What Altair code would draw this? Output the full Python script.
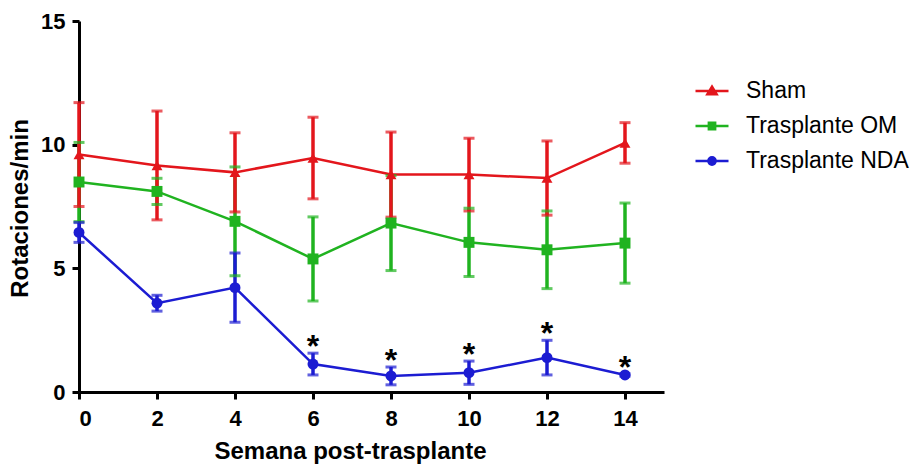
import altair as alt
import pandas as pd

# ---- data ----
semanas = [0, 2, 4, 6, 8, 10, 12, 14]

sham_media = [9.6, 9.16, 8.88, 9.46, 8.79, 8.79, 8.65, 10.07]
sham_sem = [2.1, 2.2, 1.6, 1.65, 1.72, 1.47, 1.5, 0.82]

om_media = [8.49, 8.11, 6.9, 5.38, 6.83, 6.05, 5.75, 6.02]
om_sem = [1.6, 0.53, 2.2, 1.7, 1.92, 1.38, 1.57, 1.62]

nda_media = [6.45, 3.59, 4.22, 1.13, 0.65, 0.78, 1.39, 0.69]
nda_sem = [0.4, 0.32, 1.4, 0.44, 0.36, 0.47, 0.7, 0.05]
nda_marca = ["", "", "", "*", "*", "*", "*", "*"]

orden_leyenda = ["Sham", "Trasplante OM", "Trasplante NDA"]
colores = ["#e3161c", "#20b320", "#1c1cd2"]
formas = ["triangle-up", "square", "circle"]
formas_leyenda = [
    "M-1,0H1M0,-0.26L0.28,0.2L-0.28,0.2Z",
    "M-1,0H1M-0.19,-0.19H0.19V0.19H-0.19Z",
    "M-1,0H1M-0.22,0A0.22,0.22,0,1,0,0.22,0A0.22,0.22,0,1,0,-0.22,0Z",
]

# drawing order: OM, NDA, Sham (Sham on top)
series = [
    ("Trasplante OM", om_media, om_sem, [""] * 8),
    ("Trasplante NDA", nda_media, nda_sem, nda_marca),
    ("Sham", sham_media, sham_sem, [""] * 8),
]
rows = []
for g, medias, errs, marcas in series:
    for s, m, e, mk in zip(semanas, medias, errs, marcas):
        rows.append({"semana": s, "grupo": g, "media": m,
                     "inf": m - e, "sup": m + e, "marca": mk})
df = pd.DataFrame(rows)

FONT = "Liberation Sans"

xscale = alt.Scale(domain=[0, 15], nice=False, zero=False)
yscale = alt.Scale(domain=[0, 15], nice=False)
xaxis = alt.Axis(values=semanas, format="d", title="Semana post-trasplante",
                 titleX=271, titleY=66, titleBaseline="alphabetic",
                 titleAlign="center", labelPadding=9)
yaxis = alt.Axis(values=[0, 5, 10, 15], title="Rotaciones/min",
                 titleX=-59, titleY=187, titleAlign="center",
                 titleBaseline="middle", titleAngle=270, labelPadding=7)

X = alt.X("semana:Q", scale=xscale, axis=xaxis)


def Y(field):
    return alt.Y(field, type="quantitative", scale=yscale, axis=yaxis)


color = alt.Color("grupo:N", scale=alt.Scale(domain=orden_leyenda, range=colores),
                  legend=None)

base = alt.Chart(df)

lineas = base.mark_line(strokeWidth=2.5).encode(x=X, y=Y("media"), color=color)
barras = base.mark_rule(strokeWidth=3.5).encode(
    x=X, y=Y("inf"), y2="sup:Q", color=color)
tope_inf = base.mark_tick(orient="horizontal", size=11, thickness=3).encode(
    x=X, y=Y("inf"), color=color)
tope_sup = base.mark_tick(orient="horizontal", size=11, thickness=3).encode(
    x=X, y=Y("sup"), color=color)
puntos = base.mark_point(filled=True, opacity=1, size=120).encode(
    x=X, y=Y("media"), color=color,
    shape=alt.Shape("grupo:N", scale=alt.Scale(domain=orden_leyenda, range=formas),
                    legend=None))
asteriscos = base.transform_filter("datum.marca == '*'").mark_text(
    fontSize=32, fontWeight="bold", font=FONT, baseline="alphabetic", dy=4,
    color="black").encode(x=X, y=Y("sup"), text="marca:N")

leg = alt.Legend(title=None, orient="none", legendX=615, legendY=52,
                 symbolSize=1089, symbolStrokeWidth=2.5, labelFontSize=23,
                 labelFont=FONT, labelColor="black", labelOffset=16,
                 rowPadding=5, padding=0, labelLimit=400, symbolOpacity=1)
leyenda = base.transform_filter("datum.semana < 0").mark_point(
    filled=True, opacity=1, strokeWidth=2.5).encode(
    x=X, y=Y("media"),
    fill=alt.Fill("grupo:N", scale=alt.Scale(domain=orden_leyenda, range=colores), legend=leg),
    stroke=alt.Stroke("grupo:N", scale=alt.Scale(domain=orden_leyenda, range=colores), legend=leg),
    shape=alt.Shape("grupo:N", scale=alt.Scale(domain=orden_leyenda, range=formas_leyenda), legend=leg),
)

chart = alt.layer(
    lineas, barras, tope_inf, tope_sup, puntos, asteriscos, leyenda
).resolve_scale(
    shape="independent", fill="independent", stroke="independent"
).properties(
    width=585, height=371,
    padding={"left": 79, "top": 21, "right": 259, "bottom": 81},
    autosize=alt.AutoSizeParams(type="none"),
    background="white",
).configure_view(stroke=None).configure_axis(
    grid=False, domainColor="black", domainWidth=3, tickColor="black",
    tickWidth=3, tickSize=7, labelFont=FONT, labelFontSize=22,
    labelFontWeight="bold", labelColor="black", titleFont=FONT,
    titleFontSize=24, titleFontWeight="bold", titleColor="black",
)

chart.save("out.html", embed_options={"renderer": "svg", "actions": False})
